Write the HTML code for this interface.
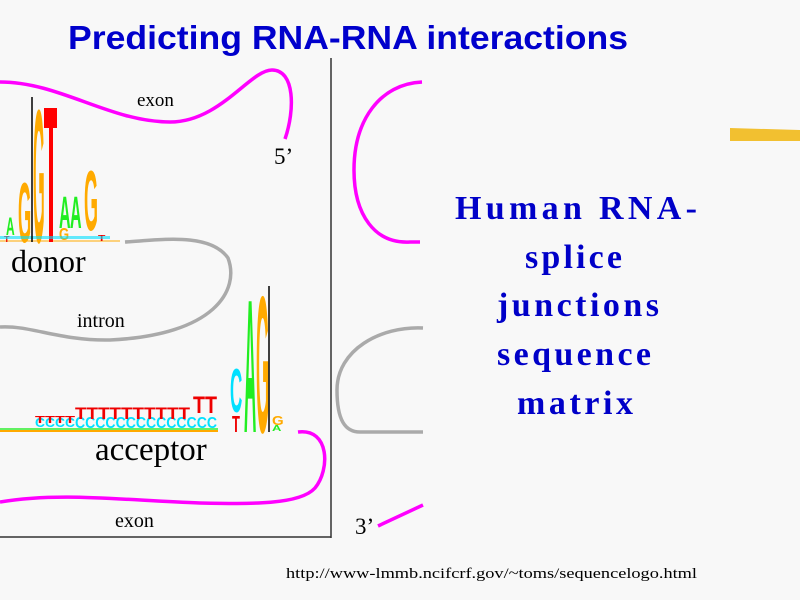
<!DOCTYPE html>
<html><head><style>
html,body{margin:0;padding:0;background:#f8f8f8;}
svg{display:block}
.s{font-family:"Liberation Serif",serif;fill:#000}
.l{font-family:"Liberation Sans",sans-serif;font-weight:bold;font-size:10px}
.b{font-family:"Liberation Serif",serif;font-weight:bold;fill:#0000c8;font-size:34px}
</style></head><body>
<svg width="800" height="600" viewBox="0 0 800 600" xmlns="http://www.w3.org/2000/svg">
<rect width="800" height="600" fill="#f8f8f8"/>
<text x="68" y="49" font-family="Liberation Sans,sans-serif" font-weight="bold" font-size="33" fill="#0000cc" textLength="560" lengthAdjust="spacingAndGlyphs">Predicting RNA-RNA interactions</text>
<line x1="331" y1="58" x2="331" y2="538" stroke="#333" stroke-width="1.5"/>
<line x1="0" y1="537" x2="331" y2="537" stroke="#333" stroke-width="1.5"/>
<path d="M0,82 C60,82 110,122 170,122 C220,122 250,70 272,70 C295,70 295,110 285,139" fill="none" stroke="#ff00ff" stroke-width="3.5"/>
<path d="M125,242 C160,240 210,232 228,258 C240,290 215,335 110,340 C60,341 30,325 0,327" fill="none" stroke="#aaa" stroke-width="3.5"/>
<path d="M298,432 C330,428 330,470 315,488 C300,505 250,504 200,503 C120,500 60,492 0,502" fill="none" stroke="#ff00ff" stroke-width="3.5"/>
<path d="M422,82 C380,84 354,120 354,170 C354,215 375,244 410,242 L420,242" fill="none" stroke="#ff00ff" stroke-width="3.5"/>
<path d="M423,328 C380,326 337,350 337,390 C337,420 345,432 360,432 L423,432" fill="none" stroke="#aaa" stroke-width="3.5"/>
<path d="M378,526 L423,505" fill="none" stroke="#ff00ff" stroke-width="3.5"/>
<path d="M730,128 L800,130 L800,141 L730,141 Z" fill="#f2c030"/>
<g class="l">
<line x1="0" y1="241" x2="120" y2="241" stroke="#ffaa00" stroke-width="1"/>
<text transform="translate(4,242) scale(0.9,0.8)" fill="#e00">T</text>
<text transform="translate(6,235) scale(1.2,2.5)" fill="#22ee22">A</text>
<text transform="translate(18,242) scale(1.7,8.5)" fill="#ffaa00">G</text>
<text transform="translate(33,242) scale(1.5,19)" fill="#ffaa00">G</text>
<rect x="44" y="108" width="13" height="20" fill="#f00"/>
<rect x="49" y="108" width="4" height="134" fill="#f00"/>
<text transform="translate(59,228) scale(1.6,4.5)" fill="#22ee22">A</text>
<text transform="translate(59,240) scale(1.3,1.8)" fill="#ffaa00">G</text>
<text transform="translate(70,228) scale(1.6,4.5)" fill="#22ee22">A</text>
<text transform="translate(84,230) scale(1.8,8.5)" fill="#ffaa00">G</text>
<text transform="translate(98,241) scale(1.2,0.8)" fill="#e00">T</text>
<rect x="0" y="236" width="110" height="3" fill="#00e0ff" opacity="0.6"/>
</g>
<line x1="32" y1="97" x2="32" y2="242" stroke="#000" stroke-width="1.5"/>
<g class="l">
<rect x="0" y="428" width="218" height="4" fill="#22ee22" opacity="0.7"/>
<rect x="0" y="430" width="218" height="2" fill="#ffaa00"/>
<text transform="translate(35,427) scale(1,1.3)" fill="#00e0ff" textLength="40" lengthAdjust="spacingAndGlyphs">CCCC</text>
<text transform="translate(75,428) scale(1,1.6)" fill="#00e0ff" textLength="142" lengthAdjust="spacingAndGlyphs">CCCCCCCCCCCCCC</text>
<text transform="translate(35,423) scale(1,1)" fill="#e00" textLength="40" lengthAdjust="spacingAndGlyphs">TTTT</text>
<text transform="translate(75,419) scale(1,1.7)" fill="#e00" textLength="115" lengthAdjust="spacingAndGlyphs">TTTTTTTTTT</text>
<text transform="translate(193,413) scale(1,2.4)" fill="#e00" textLength="24" lengthAdjust="spacingAndGlyphs">TT</text>
<text transform="translate(232,432) scale(1.3,2.3)" fill="#e00">T</text>
<text transform="translate(230,412) scale(1.7,6.2)" fill="#00e0ff">C</text>
<text transform="translate(244,432) scale(1.7,19)" fill="#22ee22">A</text>
<text transform="translate(256,432) scale(1.7,19.5)" fill="#ffaa00">G</text>
<text transform="translate(272,425) scale(1.5,1.3)" fill="#ffaa00">G</text>
<text transform="translate(272,431) scale(1.3,0.8)" fill="#22ee22">A</text>
</g>
<line x1="269" y1="286" x2="269" y2="432" stroke="#000" stroke-width="1.5"/>
<text class="s" x="137" y="106" font-size="19">exon</text>
<text class="s" x="274" y="164" font-size="23">5’</text>
<text class="s" x="11" y="272" font-size="32">donor</text>
<text class="s" x="77" y="327" font-size="20">intron</text>
<text class="s" x="95" y="460" font-size="33">acceptor</text>
<text class="s" x="115" y="527" font-size="20">exon</text>
<text class="s" x="355" y="534" font-size="23">3’</text>
<text class="b" x="455" y="219" textLength="242" lengthAdjust="spacing">Human RNA-</text>
<text class="b" x="525" y="268" textLength="97" lengthAdjust="spacing">splice</text>
<text class="b" x="497" y="316" textLength="162" lengthAdjust="spacing">junctions</text>
<text class="b" x="497" y="365" textLength="154" lengthAdjust="spacing">sequence</text>
<text class="b" x="517" y="414" textLength="116" lengthAdjust="spacing">matrix</text>
<text class="s" x="286" y="578" font-size="15" textLength="411" lengthAdjust="spacingAndGlyphs">http://www-lmmb.ncifcrf.gov/~toms/sequencelogo.html</text>
</svg>
</body></html>
